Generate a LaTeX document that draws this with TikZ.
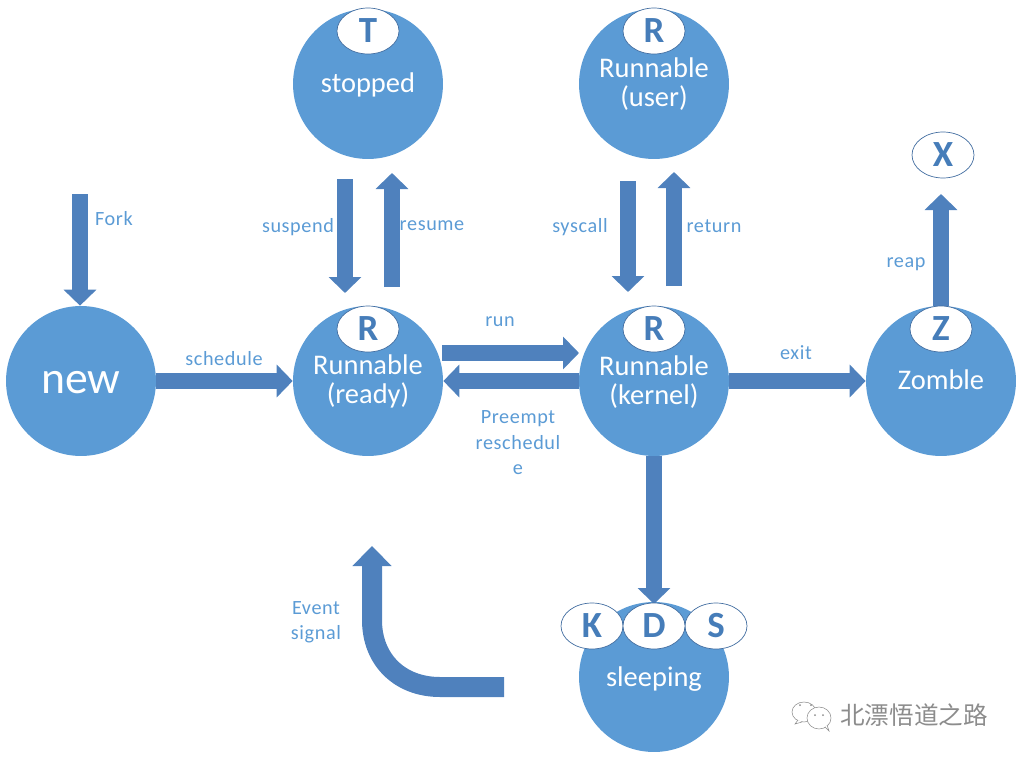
\documentclass[tikz,border=0pt]{standalone}
\usepackage{fontspec}
\setmainfont{Carlito}
\newfontfamily\cjk{Noto Sans CJK SC}
\usepackage{xcolor}
\usepackage{tikz}
\usetikzlibrary{
  positioning,
  arrows.meta,
  shapes.geometric,
  calc
}
\definecolor{MainBlue}{RGB}{91,155,213}
\definecolor{ArrowBlue}{RGB}{79,129,189}
\definecolor{LetterBlue}{RGB}{70,125,185}
\definecolor{MarkGray}{RGB}{140,140,140}
\newcommand{\shifted}[2]{\raisebox{#1}[\height][\depth]{#2}}

\begin{document}
\begin{tikzpicture}[
  x=0.02cm,
  y=-0.02cm,
  state/.style={
    circle,
    fill=MainBlue,
    draw=none,
    minimum size=3cm,
    inner sep=0pt,
    align=center,
    text=white,
    font=\fontsize{16.2}{16.5}\selectfont
  },
  badge/.style={
    ellipse,
    draw=ArrowBlue!85!black,
    line width=0.4pt,
    fill=white,
    minimum width=1.24cm,
    minimum height=0.92cm,
    inner sep=0pt,
    text=LetterBlue,
    font=\fontsize{21}{21}\selectfont\bfseries
  },
  lbl/.style={
    text=MainBlue,
    align=center,
    inner sep=0pt,
    font=\addfontfeature{LetterSpace=3}\fontsize{11.5}{14.5}\selectfont
  },
  arr/.style={
    draw=ArrowBlue,
    line width=0.32cm,
    -{Triangle[width=0.64cm,length=0.32cm]}
  },
  wmark/.style={MarkGray, line width=0.3pt, fill=white},
]
  \useasboundingbox (0,0) rectangle (1022,761);

  % ========== states ==========
  \node[state, font=\fontsize{26}{28}\selectfont] (new) at (81,381) {\shifted{-1pt}{new}};
  \node[state] (ready) at (368,381) {\shifted{-0.5pt}{Runnable}\\\shifted{-0.5pt}{(ready)}};
  \node[state] (kernel) at (654,381) {\shifted{-0.5pt}{Runnable}\\\shifted{-0.5pt}{(kernel)}};
  \node[state] (zombie) at (941,381) {\shifted{1pt}{Zomble}};
  \node[state] (stopped) at (368,84) {\shifted{-0.5pt}{stopped}};
  \node[state] (user) at (654,84) {Runnable\\(user)};
  \node[state] (sleeping) at (654,677) {\shifted{-1pt}{sleeping}};

  % ========== free ends ==========
  \coordinate (forkTop) at (80,194);
  \coordinate (susTop) at (345,179);
  \coordinate (susEnd) at (345,293);
  \coordinate (resBot) at (392,287);
  \coordinate (resEnd) at (392,173);
  \coordinate (sysTop) at (628,181);
  \coordinate (sysEnd) at (628,292);
  \coordinate (retBot) at (674,286);
  \coordinate (retEnd) at (674,172);
  \coordinate (runA) at (442,353);
  \coordinate (runB) at (579,353);
  \coordinate (reapEnd) at (941,194);
  \coordinate (wakeA) at (504,687);
  \coordinate (wakeB) at (372,546);

  % ========== arrows ==========
  \draw[arr] (forkTop) -- (new.north-|forkTop);
  \draw[arr] (new.east) -- (ready.west);
  \draw[arr] (susTop) -- (susEnd);
  \draw[arr] (resBot) -- (resEnd);
  \draw[arr] (sysTop) -- (sysEnd);
  \draw[arr] (retBot) -- (retEnd);
  \draw[arr] (runA) -- (runB);
  \draw[arr] (kernel.west) -- (ready.east);
  \draw[arr] (kernel.east) -- (zombie.west);
  \draw[arr] (kernel.south) -- (654,604);
  \draw[arr] (zombie.north) -- (reapEnd);
  \draw[arr, line width=0.4cm, -{Triangle[width=0.76cm,length=0.4cm]}]
    (wakeA) -- (440,687) .. controls (400,687) and (372,660) .. (372,620) -- (wakeB);

  % ========== badges ==========
  \node[badge] (readyR) at (368,329) {R};
  \node[badge] (kernelR) at (654,329) {R};
  \node[badge] (zombieZ) at (941,329) {Z};
  \node[badge] (stoppedT) at (368,31) {T};
  \node[badge] (userR) at (654,31) {R};
  \node[badge] (deadX) at (943,155) {X};
  \node[badge] (sleepK) at (592,626) {K};
  \node[badge] (sleepS) at (716,626) {S};
  \node[badge] (sleepD) at (654,626) {D};

  % ========== labels ==========
  \node[lbl] (lfork) at (114,219) {Fork};
  \node[lbl] (lsched) at (224,359) {schedule};
  \node[lbl] (lsus) at (298,227) {suspend};
  \node[lbl] (lres) at (432,226) {resume};
  \node[lbl] (lsys) at (580,227) {syscall};
  \node[lbl] (lret) at (714,226) {return};
  \node[lbl] (lrun) at (500,322) {run};
  \node[lbl] (lpre) at (518,443) {Preempt\\reschedul\\e};
  \node[lbl] (lexit) at (796,353) {exit};
  \node[lbl] (lreap) at (906,264) {reap};
  \node[lbl] (levent) at (316,622) {Event\\signal};

  % ========== watermark ==========
  \draw[wmark] (804,712) ellipse (12 and 10);
  \draw[wmark] (798,720) -- (795,724) -- (802,722);
  \fill[MarkGray] (800,705) circle (1);
  \fill[MarkGray] (811,705) circle (1);
  \draw[wmark] (819,718) ellipse (12 and 11);
  \draw[wmark] (825,727) -- (829,731) -- (827,725);
  \fill[MarkGray] (815,715) circle (1);
  \fill[MarkGray] (823,715) circle (1);
  \node[text=MarkGray, inner sep=0pt, font=\cjk\fontsize{14}{14}\selectfont] (markText) at (914,715) {北漂悟道之路};
\end{tikzpicture}
\end{document}
